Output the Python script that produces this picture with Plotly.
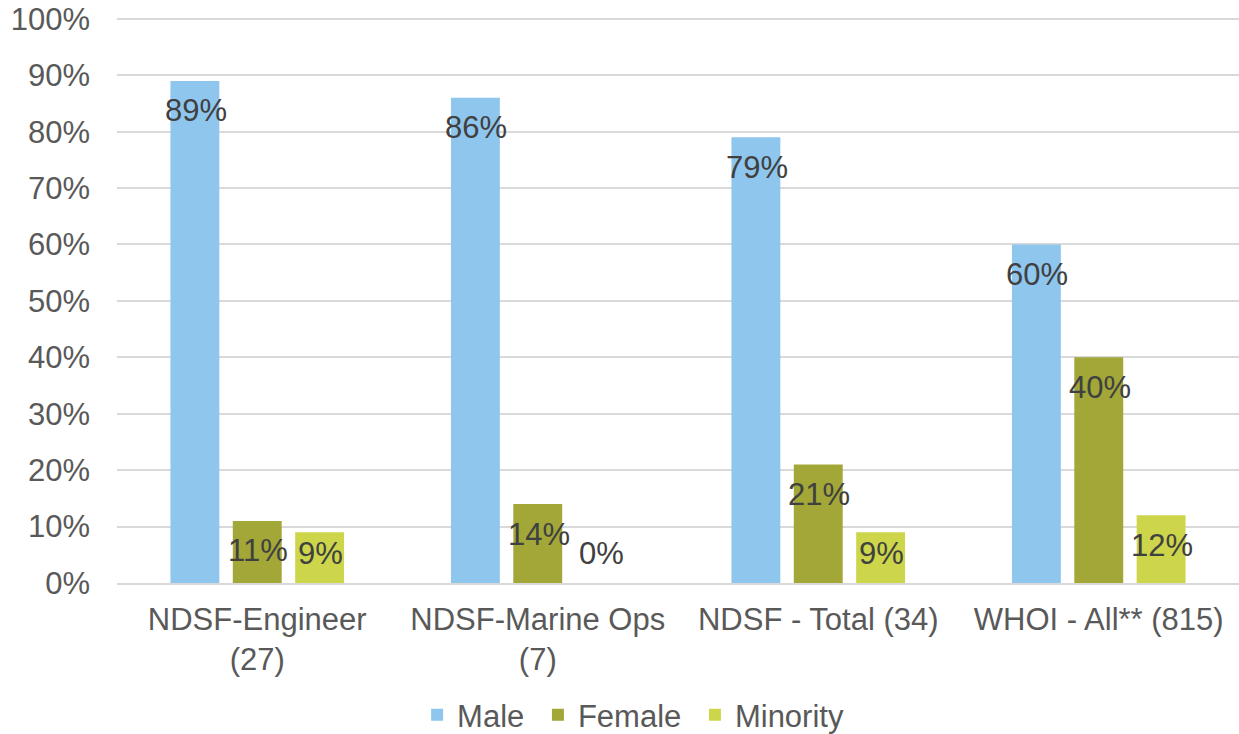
import plotly.graph_objects as go

categories = ["NDSF-Engineer<br>(27)", "NDSF-Marine Ops<br>(7)", "NDSF - Total (34)", "WHOI - All** (815)"]
male = [89, 86, 79, 60]
female = [11, 14, 21, 40]
minority = [9, 0, 9, 12]
series_names = ["Male", "Female", "Minority"]
colors = ["#8EC6EE", "#A2A738", "#CDD64A"]
y_ticks = [0, 10, 20, 30, 40, 50, 60, 70, 80, 90, 100]
y_ticktext = [f"{t}%" for t in y_ticks]
Y_MAX = 100.5

FONT = "Liberation Sans, Arial, sans-serif"
FS = 31
W, H = 1239, 734
MT, MB, ML, MR = 16, 151, 117, 0
PLOT_H = H - MT - MB
PX_PER_UNIT = PLOT_H / Y_MAX

fig = go.Figure()
all_series = [male, female, minority]
for i, (name, vals, col) in enumerate(zip(series_names, all_series, colors)):
    label = name + ("\u00a0" if i < len(series_names) - 1 else "")
    fig.add_trace(go.Bar(x=categories, y=vals, name=label, marker_color=col,
                         marker_line_width=0))

offsets = [-62.5, 0, 62.5]
for vals, off in zip(all_series, offsets):
    for c, v in zip(categories, vals):
        # label sits inside the bar top; short bars keep it just above the baseline
        if v * PX_PER_UNIT >= 60:
            ya, ys = v, -30
        else:
            ya, ys = 0, 30
        fig.add_annotation(x=c, y=ya, text=f"{v}%", showarrow=False, xshift=off + 1, yshift=ys,
                           yanchor="middle", xanchor="center",
                           font=dict(family=FONT, size=FS, color="#404040"))

fig.update_layout(
    width=W, height=H,
    margin=dict(l=ML, r=MR, t=MT, b=MB, autoexpand=False),
    paper_bgcolor="white", plot_bgcolor="white",
    barmode="group", bargap=0.333, bargroupgap=0.216,
    font=dict(family=FONT, size=FS, color="#595959"),
    legend=dict(orientation="h", x=0.46, xanchor="center", y=-0.233, yanchor="middle",
                font=dict(size=FS, color="#595959"), itemwidth=30, traceorder="normal"),
    xaxis=dict(showline=True, linecolor="#D9D9D9", linewidth=1.5, ticks="", showgrid=False,
               automargin=False,
               tickfont=dict(size=FS, color="#595959"), ticklabelstandoff=8),
    yaxis=dict(range=[0, Y_MAX], tickmode="array", tickvals=y_ticks, ticktext=y_ticktext,
               showgrid=True, automargin=False,
               gridcolor="#D9D9D9", gridwidth=1.5, zeroline=False, showline=False,
               tickfont=dict(size=FS, color="#595959"), ticklabelstandoff=26),
)
fig.write_html("out.html", config={"displayModeBar": False},
               post_script="document.body.style.margin='0';")
